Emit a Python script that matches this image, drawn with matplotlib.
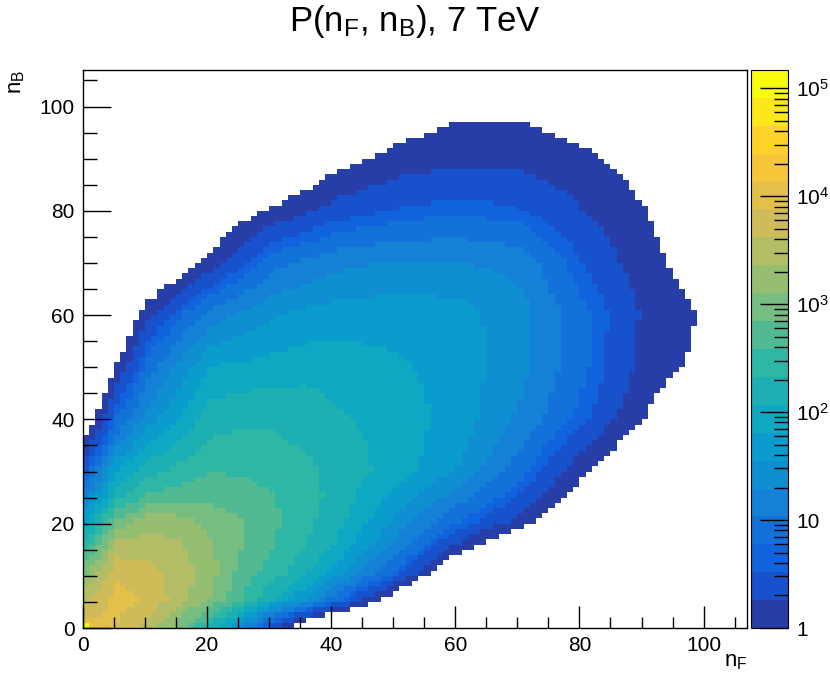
import numpy as np
import matplotlib
matplotlib.use("Agg")
import matplotlib.pyplot as plt
from matplotlib.colors import LinearSegmentedColormap, ListedColormap, Normalize
from matplotlib.ticker import MultipleLocator, FixedLocator

plt.rcParams['font.family'] = ['Liberation Sans', 'DejaVu Sans']
plt.rcParams['mathtext.fontset'] = 'custom'
plt.rcParams['mathtext.rm'] = 'Liberation Sans'
plt.rcParams['mathtext.it'] = 'Liberation Sans'

nf_nodes = [0, 5, 10, 15, 20, 25, 30, 35, 40, 50, 60, 70, 80, 90, 100, 110]
nb_nodes = [0, 5, 10, 15, 20, 25, 30, 35, 40, 50, 60, 70, 80, 90, 100, 110]

# log10(counts), one row per nB node, one column per nF node
log_counts = [
    [4.0, 3.85, 3.55, 3.0, 2.3, 1.5, 0.5, -0.3, -0.8, -1.5, -2.0, -2.5, -3.0, -3.0, -3.5, -4.0],
    [3.6, 4.0, 3.8, 3.5, 3.1, 2.6, 2.1, 1.6, 0.9, -0.3, -1.5, -2.0, -2.5, -3.0, -3.5, -4.0],
    [3.1, 3.8, 3.7, 3.5, 3.2, 2.75, 2.45, 2.15, 1.7, 0.7, -0.6, -1.2, -1.5, -2.0, -2.5, -3.0],
    [2.5, 3.5, 3.5, 3.4, 3.15, 2.85, 2.6, 2.35, 2.05, 1.2, 0.2, -0.6, -1.0, -1.5, -2.0, -2.5],
    [1.8, 2.9, 3.25, 3.2, 3.0, 2.85, 2.65, 2.4, 2.2, 1.5, 0.8, 0.2, -0.5, -1.0, -1.5, -2.0],
    [1.2, 2.2, 2.6, 2.7, 2.75, 2.7, 2.6, 2.45, 2.25, 1.75, 1.2, 0.6, -0.2, -0.8, -1.2, -1.6],
    [0.6, 1.8, 2.2, 2.4, 2.55, 2.55, 2.45, 2.4, 2.25, 1.95, 1.55, 0.9, 0.1, -0.5, -0.9, -1.3],
    [0.1, 1.2, 1.8, 2.1, 2.35, 2.4, 2.35, 2.3, 2.2, 1.95, 1.65, 1.1, 0.4, -0.3, -0.7, -1.0],
    [-0.4, 0.8, 1.4, 1.8, 2.2, 2.25, 2.3, 2.25, 2.1, 1.95, 1.7, 1.25, 0.7, 0.0, -0.5, -0.9],
    [-1.0, 0.0, 0.9, 1.35, 1.8, 1.85, 1.9, 1.95, 1.95, 1.85, 1.7, 1.4, 0.85, 0.2, -0.1, -0.7],
    [-1.5, -0.6, 0.2, 0.7, 1.1, 1.35, 1.5, 1.6, 1.65, 1.7, 1.65, 1.4, 0.85, 0.25, -0.05, -0.6],
    [-1.8, -1.2, -0.8, -0.3, 0.1, 0.5, 0.9, 1.05, 1.2, 1.3, 1.3, 1.2, 0.6, 0.1, -0.2, -0.7],
    [-2.0, -1.8, -1.5, -1.0, -0.5, -0.2, 0.0, 0.2, 0.4, 0.6, 0.7, 0.6, 0.3, 0.0, -0.3, -0.7],
    [-2.5, -2.2, -2.0, -1.5, -1.0, -0.8, -0.6, -0.4, -0.2, 0.1, 0.2, 0.2, 0.05, -0.15, -0.4, -0.8],
    [-3.0, -2.8, -2.5, -2.2, -1.8, -1.5, -1.2, -1.0, -0.8, -0.3, -0.1, -0.1, -0.25, -0.4, -0.5, -0.9],
    [-3.5, -3.2, -3.0, -2.8, -2.5, -2.2, -2.0, -1.8, -1.5, -1.0, -0.8, -0.7, -0.7, -0.8, -0.9, -1.2],
]
corner_count = 1.1e5      # the (0, 0) bin
n_bins = 107
z_max = 1.47e5

# ROOT kBird palette, 20 contour bands
bird_stops = [0.0, 0.125, 0.25, 0.375, 0.5, 0.625, 0.75, 0.875, 1.0]
bird_r = [0.2082, 0.0592, 0.0780, 0.0232, 0.1802, 0.5301, 0.8186, 0.9956, 0.9764]
bird_g = [0.1664, 0.3599, 0.5041, 0.6419, 0.7178, 0.7492, 0.7328, 0.7862, 0.9832]
bird_b = [0.5293, 0.8684, 0.8385, 0.7914, 0.6425, 0.4662, 0.3499, 0.1968, 0.0539]
bird = LinearSegmentedColormap.from_list(
    'bird', [(s, (r, g, b)) for s, r, g, b in zip(bird_stops, bird_r, bird_g, bird_b)])
n_contours = 20
cmap = ListedColormap([bird(min((i + 0.99) / n_contours, 1.0)) for i in range(n_contours)])

# fill the bins from the read-off table
grid = np.array(log_counts)
centers = np.arange(n_bins)
rows = np.array([np.interp(centers, nf_nodes, r) for r in grid])
field = np.array([np.interp(centers, nb_nodes, rows[:, j]) for j in range(n_bins)]).T
counts = np.floor(10 ** field)
counts[0, 0] = corner_count
logc = np.ma.masked_where(counts < 1, np.log10(np.maximum(counts, 1)))

fig = plt.figure(figsize=(8.3, 7.0), dpi=100)
ax = fig.add_axes([83 / 830, 1 - 628 / 700, 664 / 830, 558 / 700])
edges = np.arange(n_bins + 1)
zlog = np.log10(z_max)
mesh = ax.pcolormesh(edges, edges, logc, cmap=cmap, norm=Normalize(0, zlog))

ax.set_xlim(0, n_bins)
ax.set_ylim(0, n_bins)
ax.xaxis.set_major_locator(MultipleLocator(20))
ax.xaxis.set_minor_locator(MultipleLocator(5))
ax.yaxis.set_major_locator(MultipleLocator(20))
ax.yaxis.set_minor_locator(MultipleLocator(5))
ax.tick_params(which='both', direction='in', top=False, right=False, labelsize=15, width=1)
ax.tick_params(axis='x', which='major', length=16, pad=6)
ax.tick_params(axis='x', which='minor', length=8)
ax.tick_params(axis='y', which='major', length=20, pad=6)
ax.tick_params(axis='y', which='minor', length=10)
for s in ax.spines.values():
    s.set_linewidth(1)

fig.text(415 / 830, 1 - 22 / 700, r"P(n$_\mathrm{F}$, n$_\mathrm{B}$), 7 TeV",
         ha='center', va='center', fontsize=25)
fig.text(747 / 830, 1 - 662 / 700, r"n$_\mathrm{F}$", ha='right', va='center', fontsize=16)
fig.text(16 / 830, 1 - 82 / 700, r"n$_\mathrm{B}$", ha='center', va='center',
         rotation=90, fontsize=16)

# colour bar
cax = fig.add_axes([751 / 830, 1 - 628 / 700, 37 / 830, 558 / 700])
cb = fig.colorbar(mesh, cax=cax)
cb.outline.set_linewidth(0.8)
major = [0, 1, 2, 3, 4, 5]
labels = ['1', '10', r'10$^{2}$', r'10$^{3}$', r'10$^{4}$', r'10$^{5}$']
cb.set_ticks(major)
cb.set_ticklabels(labels)
minor = [np.log10(k * 10 ** d) for d in range(6) for k in range(2, 10) if np.log10(k * 10 ** d) < zlog]
cax.yaxis.set_minor_locator(FixedLocator(minor))
cax.tick_params(which='both', direction='in', right=True, left=False, labelsize=15, width=1)
cax.tick_params(which='major', length=20, pad=6)
cax.tick_params(which='minor', length=10)

fig.savefig('out.png', dpi=100)
